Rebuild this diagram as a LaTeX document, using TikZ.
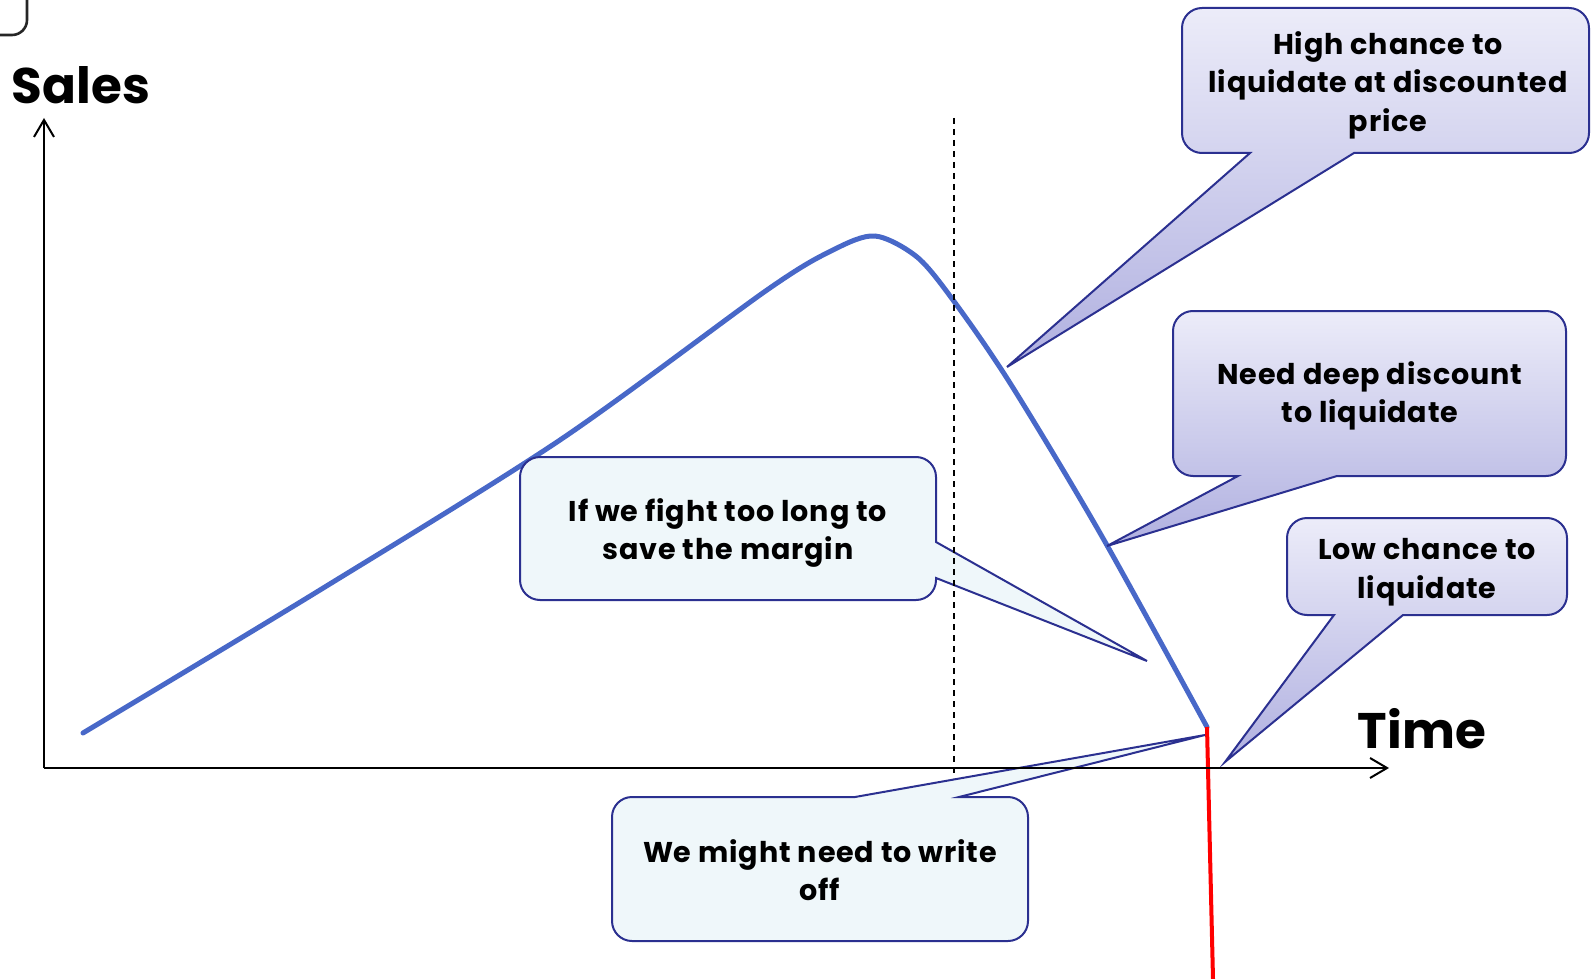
\documentclass[tikz,border=0pt]{standalone}
\usepackage{fontspec}
\setmainfont{Poppins}
\newfontfamily\callfont{Poppins}[LetterSpace=3]
\usepackage{xcolor}
\usepackage{tikz}
\usetikzlibrary{arrows.meta}

\definecolor{navy}{RGB}{43,48,144}
\definecolor{lavtop}{RGB}{236,236,249}
\definecolor{lavbot}{RGB}{176,176,224}
\definecolor{pale}{RGB}{239,247,250}
\definecolor{curveblue}{RGB}{72,104,200}

\tikzset{
    bubble/.style = {draw = navy, line width = 1pt, top color = lavtop, bottom color = lavbot},
    note/.style = {draw = navy, line width = 1pt, fill = pale},
    say/.style = {align = center, font = \callfont\fontsize{14.3}{19.25}\selectfont\bfseries},
    axislabel/.style = {anchor = base, font = \fontsize{25}{30}\selectfont\bfseries},
}

\begin{document}
\begin{tikzpicture}[x = 0.5pt, y = -0.5pt, >={Straight Barb[length=8.5pt, width=10pt]}]
    		\useasboundingbox (0,0) rectangle (1591,979);
    		
    		% corner of a box cut off at the top left
    		\draw[line width = 1.3pt, black!85] (0,35) -- (12,35) arc (90:0:15) -- (27,0);
    		
    		\coordinate (o) at (44,768);
    		\coordinate (ytop) at (44,118);
    		\coordinate (xend) at (1389,768);
    		\coordinate (dtop) at (954,118);
    		\coordinate (dbot) at (954,778);
    		\coordinate (last) at (1207,727);
    		\coordinate (redbot) at (1213,979);
    		
    		\coordinate (hightip) at (1007,367);
    		\coordinate (deeptip) at (1107,546);
    		\coordinate (lowtip) at (1225,762);
    		\coordinate (fighttip) at (1147,661);
    		\coordinate (wotip) at (1205,735);
    		
        	% sales curve
        	\draw[curveblue, line width = 2.5pt, line cap = round] plot[smooth, tension = 0.5] coordinates {
        		(83,733) (320,590) (560,440) (767,290) (833,250) (875,236) (917,257)
        		(953,300) (1010,383) (1100,533) (last)};
        	\draw[red, line width = 2pt] (last) -- (redbot);
        	
        	% callouts
        	\draw[bubble] (1202,8) -- (1569,8) arc (-90:0:20) -- (1589,133) arc (0:90:20) -- (1354,153) -- (hightip) -- (1250,153) -- (1202,153) arc (90:180:20) -- (1182,28) arc (180:270:20) -- cycle;
        	\draw[bubble] (1193,311) -- (1546,311) arc (-90:0:20) -- (1566,456) arc (0:90:20) -- (1337,476) -- (deeptip) -- (1238,476) -- (1193,476) arc (90:180:20) -- (1173,331) arc (180:270:20) -- cycle;
        	\draw[bubble] (1307,518) -- (1547,518) arc (-90:0:20) -- (1567,595) arc (0:90:20) -- (1403,615) -- (lowtip) -- (1334,615) -- (1307,615) arc (90:180:20) -- (1287,538) arc (180:270:20) -- cycle;
        	\draw[note] (540,457) -- (916,457) arc (-90:0:20) -- (936,542) -- (fighttip) -- (936,578) -- (936,580) arc (0:90:20) -- (540,600) arc (90:180:20) -- (520,477) arc (180:270:20) -- cycle;
        	\draw[note] (632,797) -- (855,797) -- (wotip) -- (959,797) -- (1008,797) arc (-90:0:20) -- (1028,921) arc (0:90:20) -- (632,941) arc (90:180:20) -- (612,817) arc (180:270:20) -- cycle;
        	
        	\node (high)[say] at (1388,85) {High chance to\\liquidate at discounted\\price};
        	\node (deep)[say] at (1370,396) {Need deep discount\\to liquidate};
        	\node (low)[say] at (1427,572) {Low chance to\\liquidate};
        	\node (fight)[say] at (728,533) {If we fight too long to\\save the margin};
        	\node (writeoff)[say] at (820,870) {We might need to write\\off};
        	
        	% axes
        	\draw[->, line width = 1pt] (o) -- (ytop);
        	\draw[->, line width = 1pt] (o) -- (xend);
        	\draw[dash pattern = on 3pt off 2.5pt, line width = 0.7pt] (dtop) -- (dbot);
        	
        	\node (sales)[axislabel] at (81,104) {Sales};
        	\node (time)[axislabel] at (1422,748) {Time};
    	\end{tikzpicture}
\end{document}
